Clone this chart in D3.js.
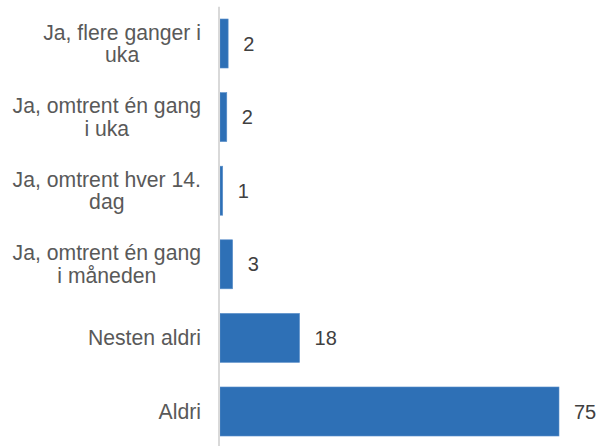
<!DOCTYPE html>
<html>
<head>
<meta charset="utf-8">
<script src="https://cdn.jsdelivr.net/npm/d3@7"></script>
<style>
  html, body { margin: 0; padding: 0; background: #fff; }
  svg { display: block; font-family: "Liberation Sans", Arial, sans-serif; }
</style>
</head>
<body>
<svg id="chart" width="613" height="446"></svg>
<script>
// Category labels (explicit line breaks as in the reference)
const categories = [
  "Ja, flere ganger i\nuka",
  "Ja, omtrent én gang\ni uka",
  "Ja, omtrent hver 14.\ndag",
  "Ja, omtrent én gang\ni måneden",
  "Nesten aldri",
  "Aldri"
];
// Percent values (bar lengths; labels rounded)
const values = [1.8, 1.5, 0.6, 2.8, 17.6, 75];

const svg = d3.select("#chart");
const W = 613, H = 446;

const x = d3.scaleLinear().domain([0, 75]).range([220, 559]);
const y = d3.scaleBand().domain(categories).range([6.7, 448.3])
  .paddingInner(0.334).paddingOuter(0.167);

const data = categories.map((c, i) => ({ c, v: values[i] }));

// Bars
svg.append("g").selectAll("rect").data(data).join("rect")
  .attr("x", x(0))
  .attr("y", d => y(d.c))
  .attr("width", d => x(d.v) - x(0))
  .attr("height", y.bandwidth())
  .attr("fill", "#2e70b6")
  .attr("stroke", "#5b8fca")
  .attr("stroke-width", 0.6);

// Vertical axis line
const yAxis = d3.axisLeft(y).tickSize(0).tickFormat("");
const gAxis = svg.append("g").attr("transform", `translate(219,0)`).call(yAxis);
gAxis.select(".domain").attr("stroke", "#d9d9d9").attr("stroke-width", 2)
  .attr("d", `M0,6.7V${H}`);

// Value labels
const fmt = d3.format(".0f");
svg.append("g").selectAll("text").data(data).join("text")
  .attr("x", d => x(d.v) + 15)
  .attr("y", d => y(d.c) + y.bandwidth() / 2)
  .attr("dy", "0.35em")
  .attr("font-size", 20)
  .attr("fill", "#404040")
  .text(d => fmt(d.v));

// Category labels: block right-aligned at x=201, lines centered within block
const lineH = 22.6;
const labG = svg.append("g");
data.forEach(d => {
  const lines = d.c.split("\n");
  const cy = y(d.c) + y.bandwidth() / 2;
  const t = labG.append("text")
    .attr("font-size", 21.2)
    .attr("fill", "#595959")
    .attr("text-anchor", "middle");
  lines.forEach((ln, i) => {
    t.append("tspan")
      .attr("y", cy + (i - (lines.length - 1) / 2) * lineH)
      .attr("dy", "0.35em")
      .text(ln);
  });
  let maxW = 0;
  t.selectAll("tspan").each(function () {
    maxW = Math.max(maxW, this.getComputedTextLength());
  });
  t.selectAll("tspan").attr("x", 201 - maxW / 2);
});
</script>
</body>
</html>
